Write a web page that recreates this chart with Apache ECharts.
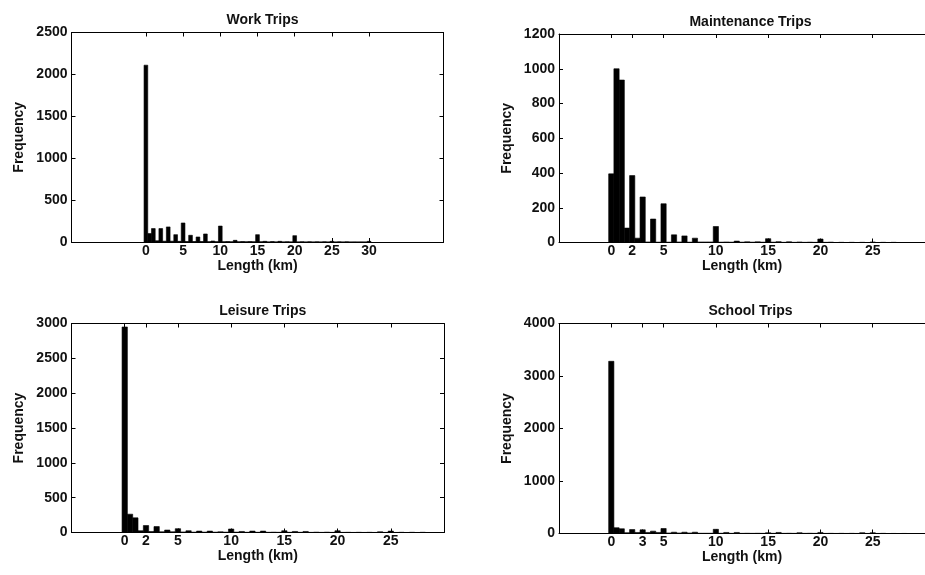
<!DOCTYPE html>
<html>
<head>
<meta charset="utf-8">
<script src="https://cdn.jsdelivr.net/npm/echarts@6/dist/echarts.min.js"></script>
<style>
html,body{margin:0;padding:0;background:#fff;}
#chart{width:925px;height:575px;}
</style>
</head>
<body>
<div id="chart"></div>
<script>
// ---- Data (histogram bins of 0.5 km) ----
const binCenters = [0,0.5,1,1.5,2,2.5,3,3.5,4,4.5,5,5.5,6,6.5,7,7.5,8,8.5,9,9.5,
  10,10.5,11,11.5,12,12.5,13,13.5,14,14.5,15,15.5,16,16.5,17,17.5,18,18.5,19,19.5,
  20,20.5,21,21.5,22,22.5,23,23.5,24,24.5,25,25.5,26,26.5,27,27.5,28,28.5,29,29.5,30];
const binWidth = 0.5;

const workCounts = [
  2110,100,160,15,160,10,180,10,88,8,
  227,5,80,5,60,5,96,4,12,4,
  190,3,5,2,20,2,5,2,5,2,
  88,2,8,1,5,1,8,1,3,1,
  76,1,3,0,3,0,2,0,3,0,
  8,0,2,0,2,0,1,0,1,0,
  8];
const maintenanceCounts = [
  395,1000,935,83,385,25,262,3,135,2,
  223,2,44,3,38,2,25,3,3,3,
  92,2,3,2,8,2,4,2,4,2,
  22,2,5,1,4,1,3,1,2,1,
  20,1,2,0,1,0,1,0,1,0,
  3,0,1,0,1,0,0,0,0,0,
  0];
const leisureCounts = [
  2950,263,210,25,100,15,85,10,35,10,
  55,8,25,5,20,5,20,5,10,5,
  50,5,15,3,20,3,20,3,5,3,
  25,3,15,3,15,2,5,2,5,2,
  25,2,3,1,3,1,3,1,10,1,
  20,1,3,0,3,0,3,0,0,0,
  0];
const schoolCounts = [
  3280,110,90,15,75,20,70,20,45,20,
  95,10,25,10,25,10,25,5,5,5,
  80,5,20,3,20,3,5,3,5,3,
  15,3,20,3,5,3,15,3,5,3,
  20,2,3,1,3,1,3,1,15,1,
  15,1,3,0,1,0,1,0,0,0,
  0];

// ---- Tick labels ----
const workXTicks = [0,5,10,15,20,25,30];
const maintenanceXTicks = [0,2,5,10,15,20,25];
const leisureXTicks = [0,2,5,10,15,20,25];
const schoolXTicks = [0,3,5,10,15,20,25];

const titles = ['Work Trips','Maintenance Trips','Leisure Trips','School Trips'];
const xName = 'Length (km)';
const yName = 'Frequency';

// ---- Layout / axis ranges ----
const panels = [
  {counts: workCounts, ticks: workXTicks, xmin: -10, xmax: 40, ymax: 2500, yint: 500,
   left: 71.5, top: 32.5, width: 372, height: 209.5, rightEdge: true},
  {counts: maintenanceCounts, ticks: maintenanceXTicks, xmin: -5, xmax: 30, ymax: 1200, yint: 200,
   left: 559, top: 34, width: 373, height: 208.5, rightEdge: false},
  {counts: leisureCounts, ticks: leisureXTicks, xmin: -5, xmax: 30, ymax: 3000, yint: 500,
   left: 71.5, top: 323.5, width: 372.5, height: 209, rightEdge: true},
  {counts: schoolCounts, ticks: schoolXTicks, xmin: -5, xmax: 30, ymax: 4000, yint: 1000,
   left: 559, top: 323.5, width: 373, height: 210, rightEdge: false}
];

const FONT = 'Liberation Sans';
const black = '#000';
const txt = {fontFamily: FONT, fontSize: 14, fontWeight: 'bold', color: '#111'};
const grid = [], xAxis = [], yAxis = [], series = [], title = [];

panels.forEach((p, i) => {
  grid.push({left: p.left, top: p.top, width: p.width, height: p.height, containLabel: false});
  title.push({
    text: titles[i], left: p.left + p.width / 2, top: p.top - 24, textAlign: 'center',
    textStyle: Object.assign({}, txt)
  });
  const lineStyle = {color: black, width: 1};
  xAxis.push({
    type: 'value', gridIndex: i, min: p.xmin, max: p.xmax, position: 'bottom',
    name: xName, nameLocation: 'middle', nameGap: 17,
    nameTextStyle: Object.assign({}, txt),
    axisLine: {show: true, onZero: false, lineStyle},
    axisTick: {show: true, inside: true, length: 4, customValues: p.ticks, lineStyle},
    axisLabel: Object.assign({show: true, customValues: p.ticks, margin: 2}, txt),
    splitLine: {show: false}
  });
  xAxis.push({
    type: 'value', gridIndex: i, min: p.xmin, max: p.xmax, position: 'top',
    axisLine: {show: true, onZero: false, lineStyle},
    axisTick: {show: true, inside: true, length: 4, customValues: p.ticks, lineStyle},
    axisLabel: {show: false},
    splitLine: {show: false}
  });
  yAxis.push({
    type: 'value', gridIndex: i, min: 0, max: p.ymax, interval: p.yint, position: 'left',
    name: yName, nameLocation: 'middle', nameGap: 45, nameRotate: 90,
    nameTextStyle: Object.assign({}, txt),
    axisLine: {show: true, onZero: false, lineStyle},
    axisTick: {show: true, inside: true, length: 4, lineStyle},
    axisLabel: Object.assign({show: true, margin: 4, formatter: v => String(v)}, txt),
    splitLine: {show: false}
  });
  yAxis.push({
    type: 'value', gridIndex: i, min: 0, max: p.ymax, interval: p.yint, position: 'right',
    show: p.rightEdge,
    axisLine: {show: true, onZero: false, lineStyle},
    axisTick: {show: true, inside: true, length: 4, lineStyle},
    axisLabel: {show: false},
    splitLine: {show: false}
  });
  series.push({
    type: 'custom', xAxisIndex: i * 2, yAxisIndex: i * 2,
    clip: true,
    encode: {x: 0, y: 1},
    data: binCenters.map((c, k) => [c, p.counts[k]]),
    renderItem: function (params, api) {
      const x = api.value(0), y = api.value(1);
      const a = api.coord([x - binWidth / 2, y]);
      const b = api.coord([x + binWidth / 2, 0]);
      return {
        type: 'rect',
        shape: {x: a[0], y: a[1], width: b[0] - a[0], height: b[1] - a[1]},
        style: {fill: black, stroke: black, lineWidth: 0.6}
      };
    }
  });
});

const chart = echarts.init(document.getElementById('chart'), null, {renderer: 'canvas'});
chart.setOption({
  backgroundColor: '#fff',
  animation: false,
  title, grid, xAxis, yAxis, series
});
</script>
</body>
</html>
